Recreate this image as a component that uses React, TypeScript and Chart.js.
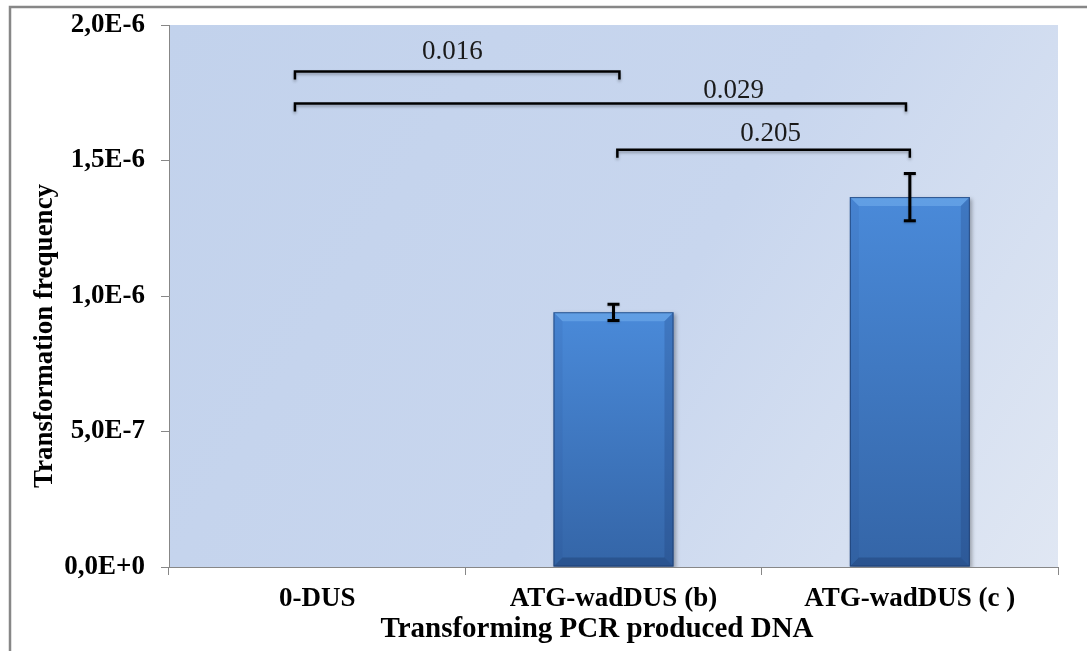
import { useEffect, useRef } from "react";
import { Chart, registerables } from "chart.js";

Chart.register(...registerables);

// Bars: mean transformation frequency for each PCR-produced DNA
const categories = ["0-DUS", "ATG-wadDUS (b)", "ATG-wadDUS (c )"];
const frequencies = [0, 0.94e-6, 1.365e-6];
const errors = [0, 0.03e-6, 0.087e-6];
const yTickLabels = ["0,0E+0", "5,0E-7", "1,0E-6", "1,5E-6", "2,0E-6"];

// Pairwise comparison brackets (category-index span, level, p-value text)
const pValues = ["0.016", "0.029", "0.205"];
const bracketStart = [-0.075, -0.075, 1.013];
const bracketEnd = [1.02, 1.987, 2.0];
const bracketLevel = [1.828e-6, 1.71e-6, 1.54e-6];
const pLabelAt = [0.456, 1.405, 1.53];
const pLabelLevel = [1.9e-6, 1.755e-6, 1.597e-6];

const yTitle = "Transformation frequency";
const xTitle = "Transforming PCR produced DNA";

const SERIF = "'Liberation Serif', 'Times New Roman', serif";

const decorPlugin = {
  id: "decor",
  beforeDraw(chart: any) {
    const { ctx, chartArea: a } = chart;
    ctx.save();
    // outer frame
    ctx.strokeStyle = "#878787";
    ctx.lineWidth = 2.5;
    ctx.beginPath();
    ctx.moveTo(10, 2000);
    ctx.lineTo(10, 7);
    ctx.lineTo(2000, 7);
    ctx.stroke();
    // plot background
    const g = ctx.createLinearGradient(a.left, a.top, a.right, a.bottom);
    g.addColorStop(0, "#c2d2ec");
    g.addColorStop(0.55, "#c8d6ee");
    g.addColorStop(1, "#e0e7f3");
    ctx.fillStyle = g;
    ctx.fillRect(a.left, a.top, a.right - a.left, a.bottom - a.top);
    ctx.restore();
  },
  beforeDatasetsDraw(chart: any) {
    const ctx = chart.ctx;
    ctx.save();
    ctx.shadowColor = "rgba(0,0,0,0.3)";
    ctx.shadowBlur = 4;
    ctx.shadowOffsetX = 2;
    ctx.shadowOffsetY = 2;
  },
  afterDatasetsDraw(chart: any) {
    const ctx = chart.ctx;
    ctx.restore();
    const meta = chart.getDatasetMeta(0);
    const yScale = chart.scales.y;
    ctx.save();
    // bevels on the bars
    meta.data.forEach((bar: any) => {
      const { x, y, base, width } = bar.getProps(["x", "y", "base", "width"], true);
      const h = base - y;
      if (h < 2) return;
      const x0 = x - width / 2;
      const x1 = x + width / 2;
      const b = Math.min(9, h / 3);
      const poly = (pts: number[][], fill: string) => {
        ctx.beginPath();
        ctx.moveTo(pts[0][0], pts[0][1]);
        for (let i = 1; i < pts.length; i++) ctx.lineTo(pts[i][0], pts[i][1]);
        ctx.closePath();
        ctx.fillStyle = fill;
        ctx.fill();
      };
      poly([[x0, y], [x1, y], [x1 - b, y + b], [x0 + b, y + b]], "rgba(120,180,240,0.5)");
      poly([[x0, y], [x0 + b, y + b], [x0 + b, base - b], [x0, base]], "rgba(20,50,110,0.08)");
      poly([[x1, y], [x1 - b, y + b], [x1 - b, base - b], [x1, base]], "rgba(15,40,90,0.18)");
      poly([[x0, base], [x0 + b, base - b], [x1 - b, base - b], [x1, base]], "rgba(10,30,70,0.25)");
      ctx.strokeStyle = "rgba(25,55,105,0.7)";
      ctx.lineWidth = 1;
      ctx.strokeRect(x0 + 0.5, y + 0.5, width - 1, h - 1);
    });
    // error bars
    ctx.strokeStyle = "#000";
    ctx.lineWidth = 3;
    ctx.shadowColor = "rgba(0,0,0,0.25)";
    ctx.shadowBlur = 2;
    ctx.shadowOffsetY = 1;
    meta.data.forEach((bar: any, i: number) => {
      const e = errors[i];
      if (!e) return;
      const cx = bar.x;
      const top = yScale.getPixelForValue(frequencies[i] + e);
      const bot = yScale.getPixelForValue(frequencies[i] - e);
      const cap = 6;
      ctx.beginPath();
      ctx.moveTo(cx, top);
      ctx.lineTo(cx, bot);
      ctx.moveTo(cx - cap, top);
      ctx.lineTo(cx + cap, top);
      ctx.moveTo(cx - cap, bot);
      ctx.lineTo(cx + cap, bot);
      ctx.stroke();
    });
    ctx.restore();
  },
  afterDraw(chart: any) {
    const { ctx, scales } = chart;
    const xs = scales.x;
    const ys = scales.y;
    ctx.save();
    // comparison brackets
    ctx.strokeStyle = "#000";
    ctx.lineWidth = 2.5;
    ctx.shadowColor = "rgba(0,0,0,0.3)";
    ctx.shadowBlur = 3;
    ctx.shadowOffsetY = 2;
    pValues.forEach((_, i) => {
      const xa = xs.getPixelForValue(bracketStart[i]);
      const xb = xs.getPixelForValue(bracketEnd[i]);
      const yy = ys.getPixelForValue(bracketLevel[i]);
      ctx.beginPath();
      ctx.moveTo(xa, yy + 8);
      ctx.lineTo(xa, yy);
      ctx.lineTo(xb, yy);
      ctx.lineTo(xb, yy + 8);
      ctx.stroke();
    });
    ctx.shadowColor = "transparent";
    ctx.fillStyle = "#1a1a1a";
    ctx.font = `27px ${SERIF}`;
    ctx.textAlign = "center";
    ctx.textBaseline = "middle";
    pValues.forEach((t, i) => {
      ctx.fillText(t, xs.getPixelForValue(pLabelAt[i]), ys.getPixelForValue(pLabelLevel[i]));
    });
    // axis titles
    ctx.fillStyle = "#000";
    ctx.font = `bold 29px ${SERIF}`;
    ctx.textBaseline = "alphabetic";
    ctx.fillText(xTitle, 597, 637);
    ctx.font = `bold 27px ${SERIF}`;
    ctx.translate(52, 336);
    ctx.rotate(-Math.PI / 2);
    ctx.fillText(yTitle, 0, 0);
    ctx.restore();
  },
};

export default function App() {
  const canvasRef = useRef<HTMLCanvasElement | null>(null);

  useEffect(() => {
    const canvas = canvasRef.current;
    if (!canvas) return;
    const chart = new Chart(canvas, {
      type: "bar",
      data: {
        labels: categories,
        datasets: [
          {
            data: frequencies,
            borderWidth: 0,
            categoryPercentage: 1,
            barPercentage: 0.405,
            backgroundColor: (c: any) => {
              const ch = c.chart;
              const area = ch.chartArea;
              const ys = ch.scales.y;
              if (!area || !ys || typeof c.raw !== "number") return "#3f7bc8";
              const top = ys.getPixelForValue(c.raw);
              const bottom = ys.getPixelForValue(0);
              if (!isFinite(top) || bottom - top < 1) return "#3f7bc8";
              const g = ch.ctx.createLinearGradient(0, top, 0, bottom);
              g.addColorStop(0, "#4a8ad9");
              g.addColorStop(1, "#3465a7");
              return g;
            },
          },
        ],
      },
      options: {
        responsive: false,
        animation: false,
        devicePixelRatio: 1,
        layout: { padding: { top: 25, right: 29, left: 0, bottom: 0 } },
        plugins: {
          legend: { display: false },
          tooltip: { enabled: false },
        },
        scales: {
          x: {
            offset: true,
            grid: {
              offset: true,
              drawOnChartArea: false,
              drawTicks: true,
              tickLength: 8,
              color: "#878787",
              lineWidth: 1,
            },
            border: { display: true, color: "#878787", width: 1 },
            ticks: {
              color: "#000",
              padding: 8,
              maxRotation: 0,
              autoSkip: false,
              font: { family: SERIF, size: 27, weight: "bold" },
            },
            afterFit: (s: any) => {
              s.height = 84;
              s.paddingLeft = 0;
              s.paddingRight = 0;
            },
          },
          y: {
            min: 0,
            max: 2e-6,
            grid: {
              drawOnChartArea: false,
              drawTicks: true,
              tickLength: 8,
              color: "#878787",
            },
            border: { display: true, color: "#878787", width: 1 },
            ticks: {
              stepSize: 5e-7,
              color: "#000",
              padding: 16,
              font: { family: SERIF, size: 27, weight: "bold" },
              callback: (_v: any, i: number) => yTickLabels[i],
            },
            afterFit: (s: any) => {
              s.width = 169;
              s.paddingTop = 0;
              s.paddingBottom = 0;
            },
          },
        },
      },
      plugins: [decorPlugin],
    });
    return () => chart.destroy();
  }, []);

  return (
    <div style={{ position: "fixed", left: 0, top: 0, width: 1087, height: 651, background: "#fff" }}>
      <canvas ref={canvasRef} width={1087} height={651} style={{ display: "block" }} />
    </div>
  );
}
